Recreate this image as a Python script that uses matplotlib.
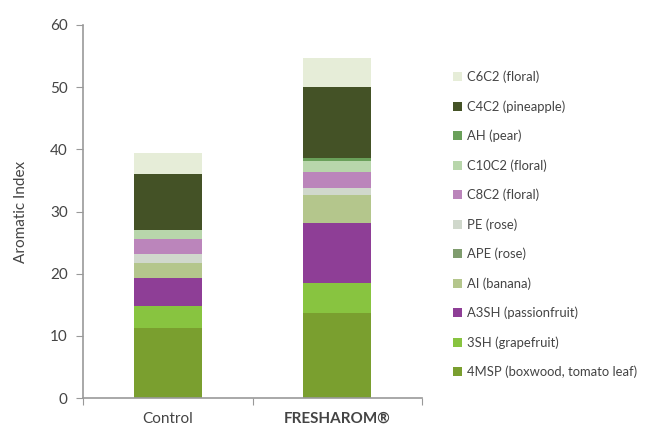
"""
    Aromatic index: Control vs FRESHAROM, stacked bars
"""

import matplotlib
matplotlib.use('Agg')
import matplotlib.pyplot as plt
import numpy as np

plt.rcParams['font.family'] = ['Lato', 'DejaVu Sans']

categories = ['Control', 'FRESHAROM®']

# stack order, bottom to top
compounds = ['4MSP (boxwood, tomato leaf)', '3SH (grapefruit)', 'A3SH (passionfruit)',
             'AI (banana)', 'APE (rose)', 'PE (rose)', 'C8C2 (floral)', 'C10C2 (floral)',
             'AH (pear)', 'C4C2 (pineapple)', 'C6C2 (floral)']

mp4sp = [11.3, 13.6]
sh3 = [3.5, 4.85]
a3sh = [4.45, 9.75]
ai = [2.45, 4.45]
ape = [0.05, 0.05]
pe = [1.4, 1.0]
c8c2 = [2.4, 2.7]
c10c2 = [1.45, 1.8]
ah = [0.1, 0.45]
c4c2 = [9.0, 11.4]
c6c2 = [3.25, 4.7]

series = [mp4sp, sh3, a3sh, ai, ape, pe, c8c2, c10c2, ah, c4c2, c6c2]
colors = ['#7a9f2f', '#88c440', '#8e3e96', '#b4c68c', '#7f9c6e', '#d0d8cc',
          '#bb85bb', '#b8d6ab', '#6aa05a', '#445226', '#e6edd8']

fig = plt.figure(figsize=(6.45, 4.29), dpi=100)
ax = fig.add_axes([83/645, 31/429, 339/645, 373/429])

x = np.arange(len(categories))
bottom = np.zeros(len(categories))
handles = []
for vals, col, name in zip(series, colors, compounds):
    b = ax.bar(x, vals, width=0.4, bottom=bottom, color=col, label=name, linewidth=0)
    handles.append(b)
    bottom += np.array(vals)

ax.set_xlim(-0.5, 1.5)
ax.set_ylim(0, 60)
ax.set_yticks(range(0, 61, 10))
ax.set_xticks([-0.5, 0.5, 1.5])
ax.set_xticklabels([])
ax.set_xticks(x, minor=True)
ax.set_xticklabels(categories, minor=True)
ax.tick_params(axis='x', which='minor', length=0, pad=10, labelsize=11, labelcolor='#444444')
ax.tick_params(axis='x', which='major', length=5, color='#999999', direction='out')
ax.tick_params(axis='y', length=5, color='#999999', labelsize=11, labelcolor='#444444', pad=6)
for lbl in ax.get_xticklabels(minor=True):
    if lbl.get_text().startswith('FRESH'):
        lbl.set_fontweight('bold')

for side in ['top', 'right']:
    ax.spines[side].set_visible(False)
for side in ['left', 'bottom']:
    ax.spines[side].set_color('#999999')
    ax.spines[side].set_linewidth(1.2)

ax.set_ylabel('Aromatic Index', fontsize=11, color='#444444', labelpad=16)

fig.legend(handles[::-1], compounds[::-1], loc='upper left', bbox_to_anchor=(441/645, 1 - 59/429),
           frameon=False, fontsize=9.4, handlelength=0.7, handleheight=0.7,
           handletextpad=0.4, labelspacing=1.3, labelcolor='#444444')

plt.savefig('out.png', dpi=100)
